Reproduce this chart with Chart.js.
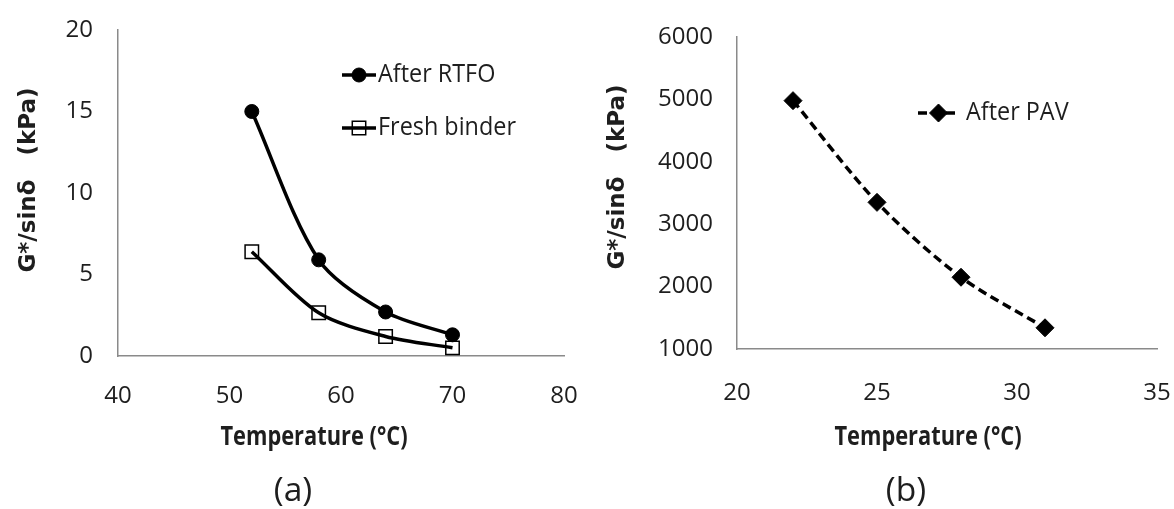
<!DOCTYPE html>
<html><head><meta charset="utf-8">
<script src="https://cdn.jsdelivr.net/npm/chart.js@4.4.0/dist/chart.umd.min.js"></script>
<style>
html,body{margin:0;padding:0;background:#fff;}
#wrap{position:relative;width:1174px;height:509px;overflow:hidden;}
.panel{position:absolute;top:0;width:587px;height:509px;}
canvas{display:block;}
</style></head><body>
<div id="wrap">
<div class="panel" style="left:0"><canvas id="ca" width="587" height="509"></canvas></div>
<div class="panel" style="left:587px"><canvas id="cb" width="587" height="509"></canvas></div>
</div>
<script>
// ---- data ----
const tempA = [52, 58, 64, 70];
const afterRTFO = [15.0, 5.9, 2.7, 1.3];
const freshBinder = [6.4, 2.65, 1.2, 0.5];
const tempB = [22, 25, 28, 31];
const afterPAV = [4980, 3350, 2150, 1340];
const xTicksA = [40, 50, 60, 70, 80];
const yTicksA = [0, 5, 10, 15, 20];
const xTicksB = [20, 25, 30, 35];
const yTicksB = [1000, 2000, 3000, 4000, 5000, 6000];
const namesA = ['After RTFO', 'Fresh binder'];
const namesB = ['After PAV'];
const xTitle = 'Temperature (°C)';
const yTitle = 'G*/sinδ   (kPa)';
const captions = ['(a)', '(b)'];

// ---- styles ----
const TEXT = '#1e1e1e';
const AXIS = '#8a8a8a';
const FAMILY = "'Open Sans', 'Liberation Sans', sans-serif";
const TICKFONT = {family: FAMILY, size: 24, weight: 'normal'};

function pts(xs, ys) { return xs.map((x, i) => ({x: x, y: ys[i]})); }

function scaleCfg(ticksArr, fitSize, isX, pad) {
  return {
    type: 'linear',
    min: ticksArr[0],
    max: ticksArr[ticksArr.length - 1],
    afterBuildTicks: s => { s.ticks = ticksArr.map(v => ({value: v})); },
    grid: {display: false, drawTicks: false},
    border: {display: true, color: AXIS, width: 1.5},
    ticks: {font: TICKFONT, color: TEXT, padding: pad, maxRotation: 0, autoSkip: false,
            callback: v => String(v)},
    afterFit: s => {
      if (isX) s.height = fitSize; else s.width = fitSize;
      s.paddingLeft = 0; s.paddingRight = 0; s.paddingTop = 0; s.paddingBottom = 0;
    }
  };
}

function textSX(ctx, str, x, y, sx, align) {
  ctx.save();
  ctx.translate(x, y);
  ctx.scale(sx, 1);
  ctx.textAlign = align;
  ctx.fillText(str, 0, 0);
  ctx.restore();
}

function decor(cfg) {
  return {
    id: 'decor',
    afterDraw(chart) {
      const ctx = chart.ctx;
      ctx.save();
      cfg.legend.forEach((it, i) => {
        const ds = chart.data.datasets[i];
        ctx.strokeStyle = ds.borderColor;
        ctx.lineWidth = ds.borderWidth;
        ctx.setLineDash(ds.borderDash || []);
        ctx.beginPath(); ctx.moveTo(it.x0, it.y); ctx.lineTo(it.x1, it.y); ctx.stroke();
        ctx.setLineDash([]);
        ctx.fillStyle = ds.pointBackgroundColor;
        ctx.strokeStyle = ds.pointBorderColor;
        ctx.lineWidth = ds.pointBorderWidth;
        Chart.helpers.drawPoint(ctx, {pointStyle: ds.pointStyle, radius: ds.pointRadius, rotation: 0, borderWidth: ds.pointBorderWidth}, (it.x0 + it.x1) / 2, it.y);
        ctx.fillStyle = TEXT;
        ctx.font = "26px " + FAMILY;
        ctx.textBaseline = 'middle';
        textSX(ctx, ds.label, it.tx, it.y, 0.9, 'left');
      });
      ctx.fillStyle = TEXT;
      ctx.textBaseline = 'middle';
      ctx.font = "bold 26px " + FAMILY;
      textSX(ctx, xTitle, cfg.xt[0], cfg.xt[1], 0.84, 'center');
      ctx.font = "32px " + FAMILY;
      textSX(ctx, cfg.cap, cfg.cp[0], cfg.cp[1], 1.05, 'center');
      ctx.save();
      ctx.translate(cfg.yt[0], cfg.yt[1]);
      ctx.rotate(-Math.PI / 2);
      ctx.textAlign = 'center';
      ctx.font = "bold 23px 'DejaVu Sans', " + FAMILY;
      ctx.fillText(yTitle, 0, 0);
      ctx.restore();
      ctx.restore();
    }
  };
}

const common = {
  responsive: false,
  animation: false,
  devicePixelRatio: 1,
  plugins: {legend: {display: false}, title: {display: false}, tooltip: {enabled: false}},
};

new Chart(document.getElementById('ca'), {
  type: 'line',
  data: {datasets: [
    {label: namesA[0], data: pts(tempA, afterRTFO), borderColor: '#000', borderWidth: 3.5, tension: 0.3,
     pointStyle: 'circle', pointRadius: 7, pointBackgroundColor: '#000', pointBorderColor: '#000', pointBorderWidth: 1, clip: false},
    {label: namesA[1], data: pts(tempA, freshBinder), borderColor: '#000', borderWidth: 3.5, tension: 0.3,
     pointStyle: 'rect', pointRadius: 9.5, pointBackgroundColor: 'rgba(0,0,0,0)', pointBorderColor: '#000', pointBorderWidth: 1.5, clip: false}
  ]},
  options: Object.assign({}, common, {
    layout: {padding: {left: 0, top: 30, right: 23, bottom: 0}},
    scales: {x: scaleCfg(xTicksA, 153, true, 26), y: scaleCfg(yTicksA, 118, false, 25)}
  }),
  plugins: [decor({
    legend: [{x0: 342, x1: 376, y: 75, tx: 378}, {x0: 342, x1: 376, y: 128, tx: 378}],
    xt: [314, 438], cap: captions[0], cp: [293, 492], yt: [29, 180]
  })]
});

new Chart(document.getElementById('cb'), {
  type: 'line',
  data: {datasets: [
    {label: namesB[0], data: pts(tempB, afterPAV), borderColor: '#000', borderWidth: 3.5, borderDash: [9, 5], tension: 0.3,
     pointStyle: 'rectRot', pointRadius: 9, pointBackgroundColor: '#000', pointBorderColor: '#000', pointBorderWidth: 1, clip: false}
  ]},
  options: Object.assign({}, common, {
    layout: {padding: {left: 0, top: 37, right: 17, bottom: 0}},
    scales: {x: scaleCfg(xTicksB, 160, true, 30), y: scaleCfg(yTicksB, 150, false, 24)}
  }),
  plugins: [decor({
    legend: [{x0: 331, x1: 372, y: 113, tx: 379}],
    xt: [341, 438], cap: captions[1], cp: [319, 492], yt: [31, 177]
  })]
});
</script>
</body></html>
